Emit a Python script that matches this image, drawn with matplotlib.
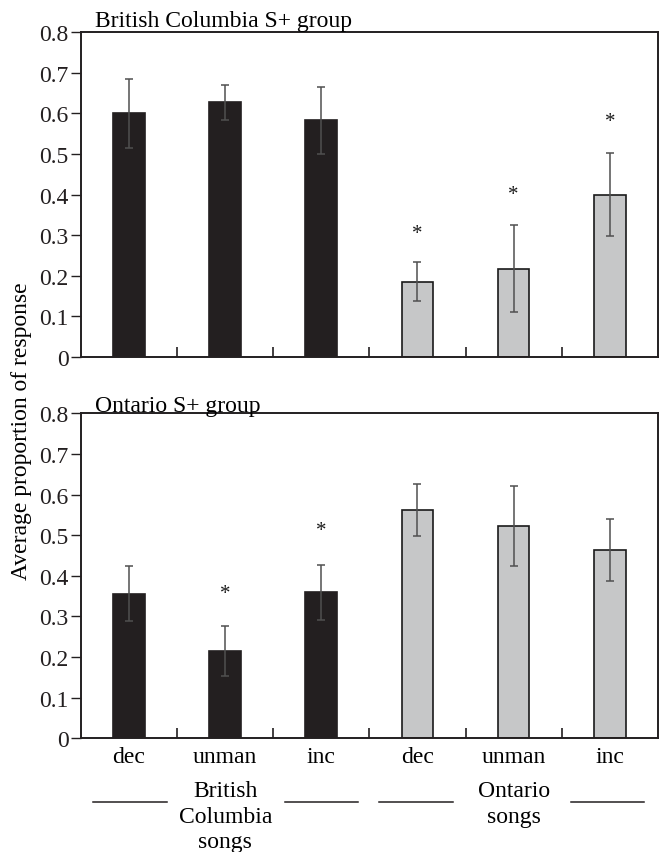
import matplotlib
matplotlib.use("Agg")
import matplotlib.pyplot as plt
import matplotlib.transforms as mtransforms

plt.rcParams['font.family'] = ['Liberation Serif', 'DejaVu Serif']

categories = ["dec", "unman", "inc", "dec", "unman", "inc"]
song_groups = [["British", "Columbia", "songs"], ["Ontario", "songs"]]
panel_titles = ["British Columbia S+ group", "Ontario S+ group"]

bc_means = [0.600, 0.627, 0.583, 0.186, 0.218, 0.400]
bc_errs = [0.085, 0.043, 0.082, 0.047, 0.106, 0.102]
bc_stars = [None, None, None, 0.313, 0.410, 0.589]

on_means = [0.356, 0.215, 0.359, 0.562, 0.522, 0.464]
on_errs = [0.068, 0.062, 0.068, 0.063, 0.099, 0.077]
on_stars = [None, 0.366, 0.519, None, None, None]

yticks = [0, 0.1, 0.2, 0.3, 0.4, 0.5, 0.6, 0.7, 0.8]
ytick_labels = ["0", "0.1", "0.2", "0.3", "0.4", "0.5", "0.6", "0.7", "0.8"]

dark = "#231f20"
light = "#c6c7c8"
colors = [dark, dark, dark, light, light, light]
edges = [dark, dark, dark, "#1a1a1a", "#1a1a1a", "#1a1a1a"]
FS = 17

fig = plt.figure(figsize=(6.6, 8.53), dpi=100)
ax_top = fig.add_axes([0.1227, 0.5803, 0.874, 0.3807])
ax_bot = fig.add_axes([0.1227, 0.1335, 0.874, 0.3807])

x = list(range(len(categories)))

def draw(ax, means, errs, stars, title, title_y):
    ax.bar(x, means, width=0.33, color=colors, edgecolor=edges, linewidth=1.2, zorder=2)
    ax.errorbar(x, means, yerr=errs, fmt='none', ecolor="#505050", elinewidth=1.1,
                capsize=2.6, capthick=1.1, zorder=3)
    for xi, s in zip(x, stars):
        if s is not None:
            ax.annotate("*", (xi, s), xytext=(0, -2.5), textcoords='offset points',
                        ha='center', va='center', fontsize=15, color="#1a1a1a")
    ax.set_xlim(-0.5, 5.5)
    ax.set_ylim(0, 0.8)
    ax.set_yticks(yticks)
    ax.set_yticklabels(ytick_labels, fontsize=FS)
    ax.tick_params(axis='y', direction='out', length=7, width=1, pad=2, colors="#231f20")
    ax.set_xticks([0.5, 1.5, 2.5, 3.5, 4.5], minor=True)
    ax.set_xticks(x)
    ax.set_xticklabels([])
    ax.tick_params(axis='x', which='minor', direction='in', length=7, width=1.2, color="#231f20")
    ax.tick_params(axis='x', which='major', length=0)
    for sp in ax.spines.values():
        sp.set_linewidth(1.4)
        sp.set_color("#231f20")
    ax.text(0.024, title_y, title, transform=ax.transAxes, ha='left', va='baseline', fontsize=FS)

draw(ax_top, bc_means, bc_errs, bc_stars, panel_titles[0], 1.02)
draw(ax_bot, on_means, on_errs, on_stars, panel_titles[1], 1.008)

trans = mtransforms.blended_transform_factory(ax_bot.transData, ax_bot.transAxes)
px = 1 / 324.7
for xi, c in zip(x, categories):
    ax_bot.text(xi, -24 * px, c, transform=trans, ha='center', va='baseline', fontsize=FS)

for x0, x1 in [(-0.38, 0.39), (1.62, 2.38), (2.6, 3.37), (4.6, 5.36)]:
    ax_bot.plot([x0, x1], [-64 * px, -64 * px], color="#231f20", linewidth=1.1,
                transform=trans, clip_on=False)

for gx, lines in zip([1, 4], song_groups):
    for i, ln in enumerate(lines):
        ax_bot.text(gx, (-58 - 25.5 * i) * px, ln, transform=trans, ha='center',
                    va='baseline', fontsize=FS)

fig.text(22 / 660, 1 - 431 / 853, "Average proportion of response", rotation=90,
         ha='center', va='center', fontsize=FS)

fig.savefig("out.png", dpi=100)
